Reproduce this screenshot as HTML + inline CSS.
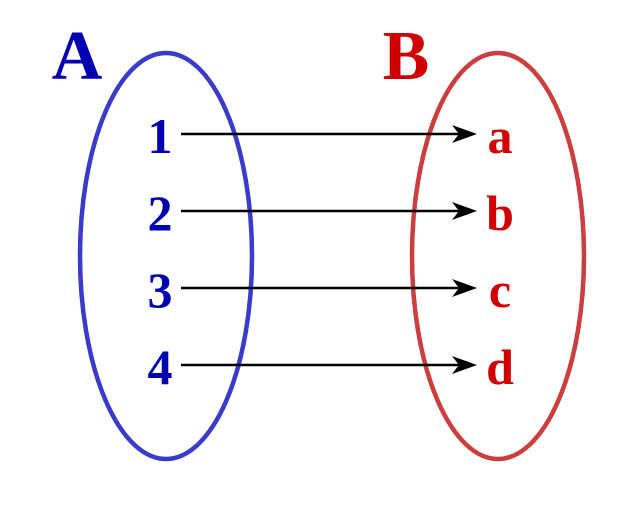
<!DOCTYPE html>
<html><head><style>body{margin:0;background:#fff}svg{display:block}</style></head>
<body>
<svg width="640" height="512" viewBox="0 0 640 512" xmlns="http://www.w3.org/2000/svg">
<ellipse cx="166" cy="256" rx="86" ry="203" fill="none" stroke="#3a3acc" stroke-width="4.5"/>
<ellipse cx="498" cy="256" rx="86" ry="203" fill="none" stroke="#cc3d3d" stroke-width="4.5"/>
<g font-family="Liberation Serif, serif" font-weight="bold">
<text x="77" y="79" font-size="70" fill="#0000b0" text-anchor="middle">A</text>
<text x="406" y="79" font-size="70" fill="#d00000" text-anchor="middle">B</text>
<g font-size="50" fill="#0000b0" text-anchor="middle">
<text x="160" y="153">1</text><text x="160" y="230">2</text><text x="160" y="307">3</text><text x="160" y="384">4</text>
</g>
<g font-size="50" fill="#d00000" text-anchor="middle">
<text x="500" y="153">a</text><text x="500" y="230">b</text><text x="500" y="307">c</text><text x="500" y="384">d</text>
</g>
</g>
<g stroke="#000" stroke-width="2.5">
<line x1="181" y1="134" x2="465" y2="134"/><line x1="181" y1="211" x2="465" y2="211"/>
<line x1="181" y1="288" x2="465" y2="288"/><line x1="181" y1="365" x2="465" y2="365"/>
</g>
<g fill="#000">
<path d="M477 134 L452 125 L459 134 L452 143Z"/>
<path d="M477 211 L452 202 L459 211 L452 220Z"/>
<path d="M477 288 L452 279 L459 288 L452 297Z"/>
<path d="M477 365 L452 356 L459 365 L452 374Z"/>
</g>
</svg>
</body></html>
